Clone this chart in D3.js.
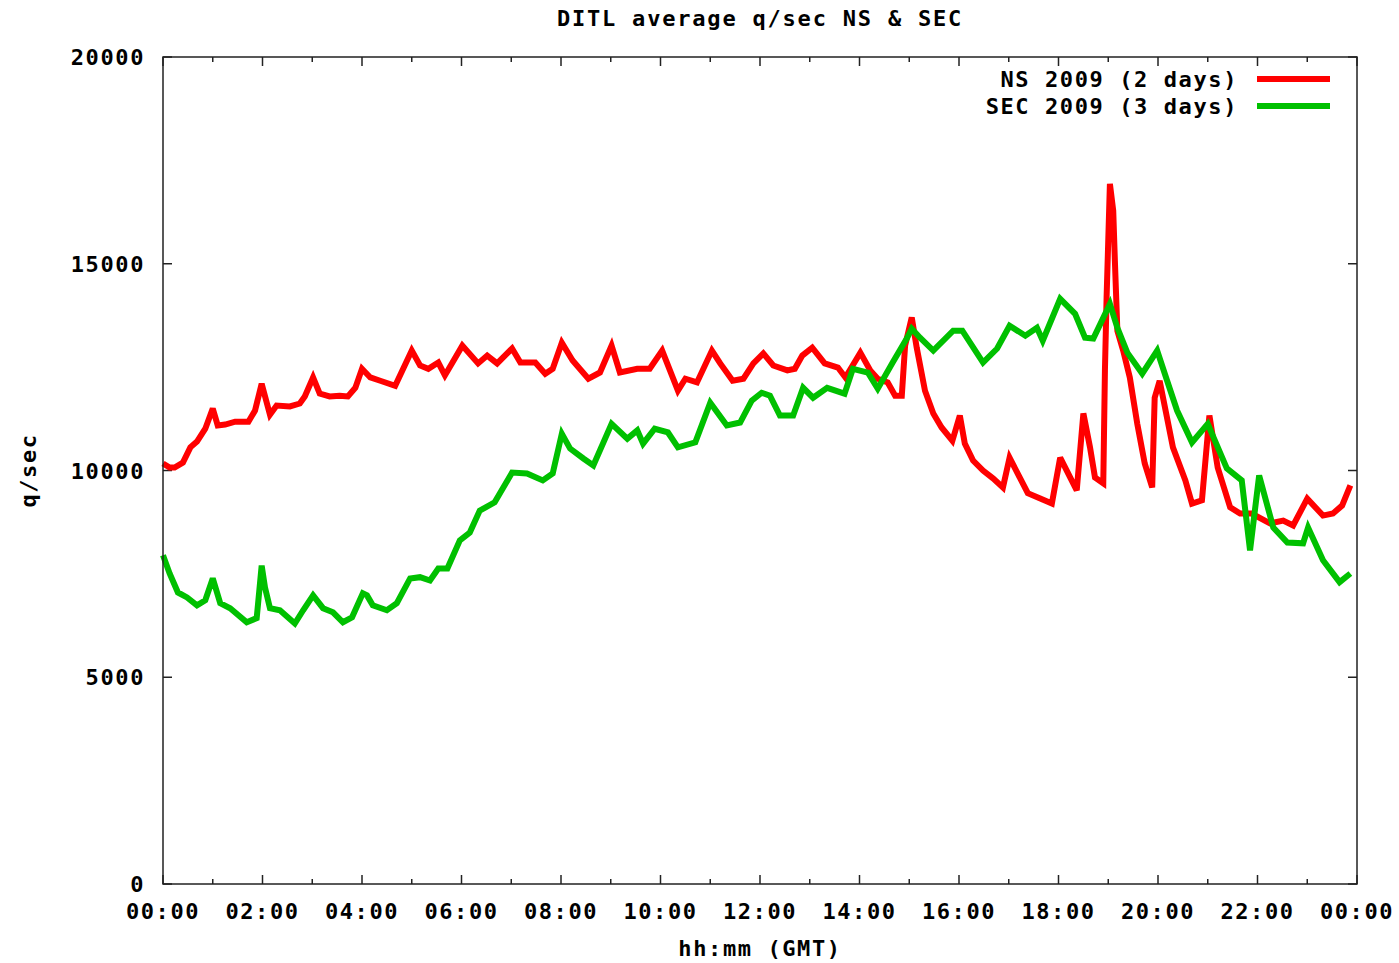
<!DOCTYPE html>
<html>
<head>
<meta charset="utf-8">
<script src="https://cdn.jsdelivr.net/npm/d3@7"></script>
<style>
  body { margin: 0; background: #fff; }
  text { font-family: "DejaVu Sans Mono", monospace; font-weight: bold; fill: #000; }
</style>
</head>
<body>
<div id="chart"></div>
<script>
// minutes after 00:00 GMT and q/sec
var nsMinutes = [0, 8, 14, 24, 33, 41, 51, 60, 66, 75, 87, 103, 111, 119, 129, 137, 153, 165, 171, 181,
    189, 201, 213, 223, 232, 240, 250, 262, 280, 300, 310, 320, 332, 340, 361, 380, 391, 403, 421, 431,
    449, 461, 470, 481, 494, 513, 527, 541, 551, 572, 587, 602, 621, 630, 644, 662, 672, 687, 700, 712,
    724, 736, 753, 762, 771, 783, 798, 814, 823, 841, 853, 862, 874, 883, 891, 895, 903, 909, 919, 929,
    939, 952, 961, 967, 977, 989, 1001, 1013, 1021, 1043, 1058, 1072, 1082, 1102, 1110, 1118, 1124, 1134, 1136, 1138,
    1142, 1146, 1148, 1151, 1158, 1166, 1175, 1184, 1193, 1196, 1202, 1218, 1233, 1241, 1253, 1262, 1272, 1287, 1299, 1313,
    1335, 1351, 1363, 1380, 1399, 1411, 1422, 1432];
var nsValues = [10170, 10070, 10070, 10190, 10560, 10700, 11010, 11500, 11090, 11110, 11180, 11180, 11450, 12100, 11350, 11570, 11550, 11620, 11790, 12250,
    11860, 11790, 11810, 11790, 12000, 12460, 12250, 12170, 12050, 12900, 12540, 12460, 12610, 12300, 13020, 12590, 12780, 12590, 12950, 12610,
    12610, 12340, 12460, 13090, 12660, 12220, 12370, 13020, 12370, 12460, 12460, 12900, 11930, 12220, 12130, 12900, 12590, 12170, 12220, 12590,
    12830, 12540, 12420, 12460, 12780, 12970, 12590, 12490, 12250, 12850, 12420, 12220, 12130, 11810, 11810, 13020, 13700, 12970, 11930, 11380,
    11040, 10720, 11330, 10650, 10240, 10000, 9810, 9590, 10310, 9450, 9320, 9200, 10310, 9520, 11380, 10560, 9830, 9690, 12420, 14180,
    16930, 16280, 15070, 13380, 12900, 12250, 11130, 10170, 9590, 11760, 12170, 10560, 9760, 9200, 9280, 11330, 10070, 9110, 8960, 8960,
    8720, 8790, 8670, 9320, 8910, 8960, 9150, 9640];

var secMinutes = [0, 8, 18, 29, 41, 51, 60, 69, 81, 101, 113, 119, 123, 129, 141, 159, 169, 181, 193, 205,
    217, 228, 241, 246, 253, 270, 282, 298, 310, 322, 332, 343, 358, 370, 382, 400, 421, 439, 458, 470,
    481, 491, 507, 519, 541, 560, 572, 579, 593, 609, 621, 642, 660, 680, 696, 710, 722, 732, 744, 760,
    772, 784, 801, 822, 832, 850, 862, 880, 897, 903, 913, 929, 953, 964, 989, 1006, 1021, 1040, 1054, 1061,
    1082, 1100, 1112, 1122, 1142, 1151, 1163, 1181, 1199, 1211, 1223, 1241, 1260, 1283, 1301, 1311, 1322, 1339, 1356, 1375,
    1381, 1399, 1419, 1432];
var secValues = [7950, 7510, 7050, 6930, 6740, 6860, 7390, 6790, 6670, 6330, 6430, 7700, 7170, 6670, 6620, 6300, 6620, 6980, 6670, 6570,
    6330, 6450, 7030, 6980, 6740, 6620, 6790, 7390, 7420, 7340, 7630, 7630, 8310, 8500, 9030, 9230, 9950, 9930, 9760, 9930,
    10890, 10530, 10290, 10120, 11130, 10770, 10970, 10650, 11010, 10920, 10560, 10680, 11640, 11090, 11160, 11690, 11880, 11810, 11330, 11330,
    12000, 11760, 12000, 11860, 12460, 12370, 11980, 12610, 13190, 13430, 13210, 12900, 13380, 13380, 12610, 12950, 13500, 13260, 13450, 13140,
    14150, 13790, 13210, 13190, 14030, 13450, 12850, 12340, 12900, 12170, 11450, 10680, 11130, 10050, 9760, 8070, 9880, 8620, 8260, 8240,
    8620, 7830, 7300, 7510];

var seriesNames = ["NS 2009 (2 days)", "SEC 2009 (3 days)"];
var seriesColors = ["#ff0000", "#00c000"];
var yTickValues = [0, 5000, 10000, 15000, 20000];

var W = 1399, H = 963;
var m = {left: 163, right: 42, top: 57, bottom: 79};
var width = W - m.left - m.right, height = H - m.top - m.bottom;

var svg = d3.select("#chart").append("svg")
    .attr("width", W)
    .attr("height", H);

var chart = svg.append("g")
    .attr("transform", "translate(" + m.left + "," + m.top + ")");

var x = d3.scaleLinear().domain([0, 1440]).range([0, width]),
    y = d3.scaleLinear().domain([0, 20000]).range([height, 0]);

var fmtTime = function (d) {
    var h = Math.floor(d / 60) % 24;
    return (h < 10 ? "0" : "") + h + ":00";
};

var majorX = d3.range(0, 1441, 120),
    minorX = d3.range(60, 1440, 120);

// ticks, all pointing inward
var ticks = chart.append("g").attr("stroke", "#222").attr("stroke-width", 1.5);
majorX.forEach(function (d) {
    ticks.append("line").attr("x1", x(d)).attr("x2", x(d)).attr("y1", height).attr("y2", height - 9);
    ticks.append("line").attr("x1", x(d)).attr("x2", x(d)).attr("y1", 0).attr("y2", 9);
});
minorX.forEach(function (d) {
    ticks.append("line").attr("x1", x(d)).attr("x2", x(d)).attr("y1", height).attr("y2", height - 5);
    ticks.append("line").attr("x1", x(d)).attr("x2", x(d)).attr("y1", 0).attr("y2", 5);
});
yTickValues.forEach(function (d) {
    ticks.append("line").attr("x1", 0).attr("x2", 9).attr("y1", y(d)).attr("y2", y(d));
    ticks.append("line").attr("x1", width).attr("x2", width - 9).attr("y1", y(d)).attr("y2", y(d));
});

// tick labels
chart.append("g").selectAll("text.xl")
    .data(majorX)
    .enter()
    .append("text")
    .attr("x", function (d) { return x(d); })
    .attr("y", height + 35)
    .attr("text-anchor", "middle")
    .style("font-size", "22px")
    .style("letter-spacing", "1.6px")
    .text(fmtTime);

chart.append("g").selectAll("text.yl")
    .data(yTickValues)
    .enter()
    .append("text")
    .attr("x", -18)
    .attr("y", function (d) { return y(d) + 8; })
    .attr("text-anchor", "end")
    .style("font-size", "22px")
    .style("letter-spacing", "1.6px")
    .text(function (d) { return d; });

// lines
var line = d3.line()
    .x(function (d) { return x(d[0]); })
    .y(function (d) { return y(d[1]); });

var series = [d3.zip(nsMinutes, nsValues), d3.zip(secMinutes, secValues)];

series.forEach(function (s, i) {
    chart.append("path")
        .datum(s)
        .attr("d", line)
        .attr("fill", "none")
        .attr("stroke", seriesColors[i])
        .attr("stroke-width", 6)
        .attr("stroke-linejoin", "miter")
        .attr("stroke-miterlimit", 3);
});

// border
chart.append("rect")
    .attr("width", width)
    .attr("height", height)
    .attr("fill", "none")
    .attr("stroke", "#222")
    .attr("stroke-width", 1.5);

// legend
var legend = chart.append("g");
seriesNames.forEach(function (name, i) {
    var ly = 22 + i * 27;
    legend.append("text")
        .attr("x", 1075)
        .attr("y", ly + 8)
        .attr("text-anchor", "end")
        .style("font-size", "22px")
        .style("letter-spacing", "1.6px")
        .text(name);
    legend.append("line")
        .attr("x1", 1094).attr("x2", 1167)
        .attr("y1", ly).attr("y2", ly)
        .attr("stroke", seriesColors[i])
        .attr("stroke-width", 6);
});

// titles
svg.append("text")
    .attr("x", 760)
    .attr("y", 26)
    .attr("text-anchor", "middle")
    .style("font-size", "22px")
    .style("letter-spacing", "1.8px")
    .text("DITL average q/sec NS & SEC");

svg.append("text")
    .attr("x", 760)
    .attr("y", 956)
    .attr("text-anchor", "middle")
    .style("font-size", "22px")
    .style("letter-spacing", "1.6px")
    .text("hh:mm (GMT)");

svg.append("text")
    .attr("transform", "translate(36," + (m.top + height / 2) + ") rotate(-90)")
    .attr("text-anchor", "middle")
    .style("font-size", "22px")
    .style("letter-spacing", "1.6px")
    .text("q/sec");
</script>
</body>
</html>
